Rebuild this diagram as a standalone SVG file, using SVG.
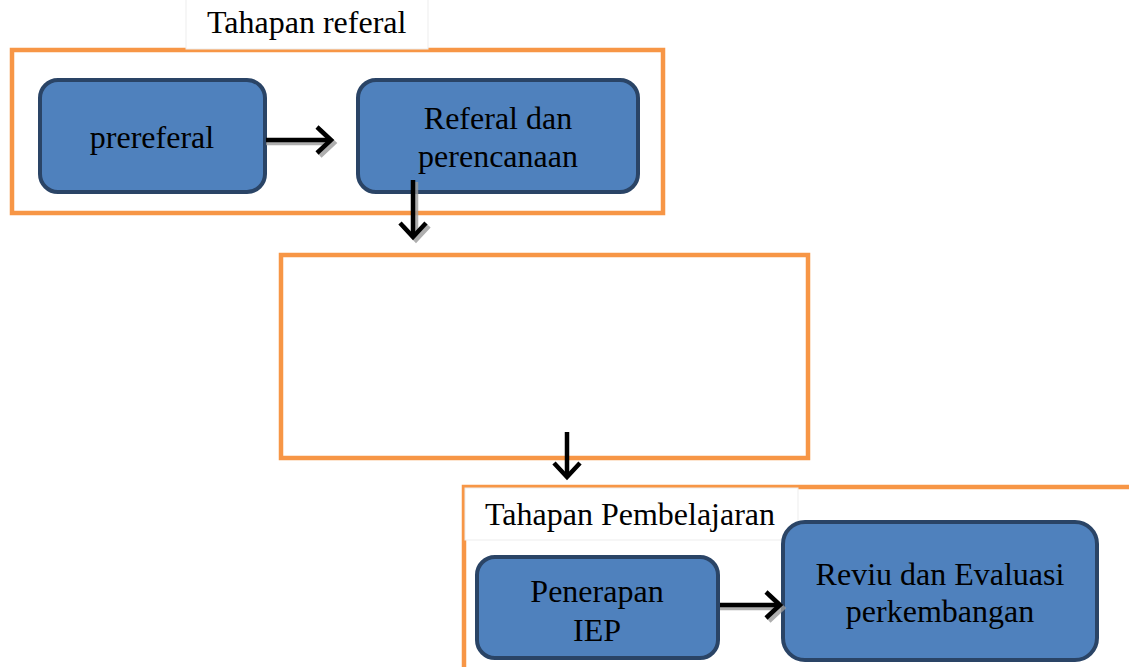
<svg xmlns="http://www.w3.org/2000/svg" width="1129" height="667" viewBox="0 0 1129 667">
<style>
.frame{fill:none;stroke:#F79646;stroke-width:4.5}
.tbox{fill:#FFFFFF;stroke:#EDEDED;stroke-width:1}
.node{fill:#4F81BD;stroke:#2A4466;stroke-width:4}
.lbl{font-family:"Liberation Serif","Times New Roman",serif;font-size:32px;fill:#000;text-anchor:middle}
.ttl{font-family:"Liberation Serif","Times New Roman",serif;font-size:32px;fill:#000}
.ln{fill:none;stroke:#000;stroke-width:4.5}
.sh{fill:none;stroke:#9A9A9A;stroke-width:4.5;opacity:0.8}
</style>
<defs>
<marker id="ah" markerWidth="10" markerHeight="10" refX="0" refY="5" orient="auto" markerUnits="userSpaceOnUse" viewBox="0 0 10 10" overflow="visible">
<path d="M-14,-8 L0,5 L-14,18" fill="none" stroke="#000" stroke-width="4.5"/>
</marker>
<marker id="ahs" markerWidth="10" markerHeight="10" refX="0" refY="5" orient="auto" markerUnits="userSpaceOnUse" viewBox="0 0 10 10" overflow="visible">
<path d="M-14,-8 L0,5 L-14,18" fill="none" stroke="#9A9A9A" stroke-width="4.5"/>
</marker>
</defs>
<g id="frame-referal">
<rect class="frame" x="12" y="50" width="651" height="163"/>
<rect class="tbox" x="186" y="-2" width="242" height="51"/>
<text class="ttl" x="207" y="33">Tahapan referal</text>
</g>
<g id="frame-middle">
<rect class="frame" x="281" y="255" width="527" height="203"/>
</g>
<g id="frame-pembelajaran">
<rect class="frame" x="464" y="487" width="700" height="200"/>
<rect class="tbox" x="465" y="488" width="333" height="52"/>
<text class="ttl" x="485" y="525">Tahapan Pembelajaran</text>
</g>
<g id="node-prereferal">
<rect class="node" x="40" y="80" width="225" height="112" rx="18"/>
<text class="lbl" x="152" y="148">prereferal</text>
</g>
<g id="node-referal">
<rect class="node" x="358" y="80" width="280" height="112" rx="18"/>
<text class="lbl" x="498" y="129">Referal dan</text>
<text class="lbl" x="498" y="167">perencanaan</text>
</g>
<g id="node-penerapan">
<rect class="node" x="477" y="557" width="241" height="101" rx="18"/>
<text class="lbl" x="597" y="602">Penerapan</text>
<text class="lbl" x="597" y="641">IEP</text>
</g>
<g id="node-reviu">
<rect class="node" x="783" y="522" width="314" height="138" rx="22"/>
<text class="lbl" x="940" y="585">Reviu dan Evaluasi</text>
<text class="lbl" x="940" y="622">perkembangan</text>
</g>
<g id="connectors">
<line class="sh" x1="266" y1="143" x2="334" y2="143" marker-end="url(#ahs)"/>
<line class="ln" x1="266" y1="140" x2="331" y2="140" marker-end="url(#ah)"/>
<line class="sh" x1="416" y1="182" x2="416" y2="240" marker-end="url(#ahs)"/>
<line class="ln" x1="413" y1="180" x2="413" y2="237" marker-end="url(#ah)"/>
<line class="ln" x1="567" y1="432" x2="567" y2="477" marker-end="url(#ah)"/>
<line class="sh" x1="720" y1="608" x2="783" y2="608" marker-end="url(#ahs)"/>
<line class="ln" x1="720" y1="605" x2="780" y2="605" marker-end="url(#ah)"/>
</g>
</svg>
